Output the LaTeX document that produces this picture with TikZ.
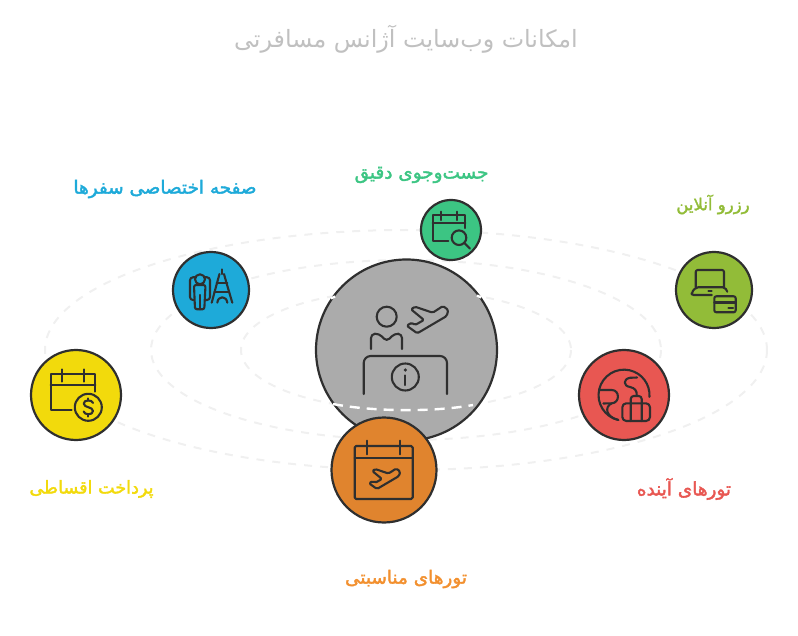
\documentclass[tikz,border=0pt]{standalone}
\usepackage{fontspec}
\usepackage{tikz}
\usetikzlibrary{positioning}
\TeXXeTstate=1
\newfontfamily\arabicfont[Script=Arabic]{DejaVu Sans}
\newfontfamily\tagfont[Script=Arabic,FakeBold=2]{DejaVu Sans}
\definecolor{inkc}{HTML}{2F2F2F}
\definecolor{orbitc}{HTML}{F0F0F0}
\definecolor{hubc}{HTML}{ABABAB}
\definecolor{searchc}{HTML}{3CC583}
\definecolor{pagec}{HTML}{1EAAD9}
\definecolor{bookc}{HTML}{92BC38}
\definecolor{futurec}{HTML}{E85752}
\definecolor{eventc}{HTML}{E0842E}
\definecolor{eventtxt}{HTML}{F2902F}
\definecolor{payc}{HTML}{F2DA0C}
\tikzset{
  main node/.style={circle,draw=inkc,line width=2.2pt,inner sep=0pt},
  orbit/.style={draw=orbitc,line width=2pt,dash pattern=on 8pt off 8pt},
  orbit front/.style={draw=white,line width=2.4pt,dash pattern=on 10pt off 7pt},
  icon/.style={draw=inkc,line width=2.1pt,line join=round,line cap=round},
  tag/.style={font=\tagfont\fontsize{18.4}{21}\selectfont,inner sep=0pt},
  small tag/.style={font=\tagfont\fontsize{#1}{21}\selectfont,inner sep=0pt},
  plane icon/.pic={
    \draw[icon,rounded corners=1.5pt] (20.3,-10) -- (15,-14) -- (4.7,-7.3) -- (-13,-13.3) -- (-17,-10.7)
      -- (-4,0) -- (-13,5) -- (-16.3,2.7) -- (-21.3,5.7) -- (-10.7,13.3) -- (18.7,-4) -- cycle;
  },
}
\newcommand{\rtltext}[1]{\beginR #1\endR}

\begin{document}
\begin{tikzpicture}[x=1pt,y=-1pt]
    \useasboundingbox (0,0) rectangle (798,636);

    % orbits behind everything
    \coordinate (mid) at (406,350);
    \draw[orbit] (mid) ellipse [x radius=361,y radius=120];
    \draw[orbit] (mid) ellipse [x radius=255,y radius=90];
    \draw[orbit] (mid) ellipse [x radius=165,y radius=60];

    \node[main node,fill=hubc,minimum size=181pt] (hub) at (406.5,350) {};

    % inner orbit in front of the hub
    \draw[orbit front] (333,404) .. controls (375,412) and (435,412) .. (473,405);
    \draw[draw=white,line width=2.4pt] (331,298.5) -- (335,296.5);
    \draw[draw=white,line width=2.4pt] (477,295.5) -- (481,297.5);

    \node[main node,fill=searchc,minimum size=60pt] (search) at (451,230) {};
    \node[main node,fill=pagec,minimum size=76pt] (page) at (211,290) {};
    \node[main node,fill=bookc,minimum size=76pt] (book) at (714,290) {};
    \node[main node,fill=payc,minimum size=90pt] (pay) at (76,395) {};
    \node[main node,fill=futurec,minimum size=90pt] (future) at (624,395) {};
    \node[main node,fill=eventc,minimum size=105pt] (event) at (384,470) {};

    % hub icon
    \draw[icon] (386.7,316.7) circle [radius=10];
    \draw[icon,rounded corners=4pt] (371,349) -- (371,334) -- (379,333.5) -- (386.7,341.5) -- (394.5,333.5) -- (402,334) -- (402,349);
    \draw[icon,rounded corners=7pt] (363.7,394) -- (363.7,356) -- (447,356) -- (447,394);
    \draw[icon] (405.3,377) circle [radius=13.5];
    \draw[icon] (405.3,375.5) -- (405.3,385);
    \fill[inkc] (405.3,370) circle [radius=1.8];
    \pic at (428,320) {plane icon};

    % search icon
    \draw[icon] (448.3,240.7) -- (432.7,240.7) -- (432.7,215) -- (465.3,215) -- (465.3,228);
    \draw[icon] (432.7,223.3) -- (465.3,223.3);
    \draw[icon] (440.7,211.7) -- (440.7,220);
    \draw[icon] (456.7,211.7) -- (456.7,220);
    \draw[icon] (459,237.7) circle [radius=7.3];
    \draw[icon] (464.3,243) -- (470,248.7);

    % page icon
    \draw[icon,rounded corners=3pt] (194,300) -- (190,300) -- (190,277.3) -- (210,277.3) -- (210,300) -- (206,300);
    \draw[icon,fill=pagec] (200,279.3) circle [radius=5];
    \draw[icon,rounded corners=2pt] (194,285) -- (195,309.3) -- (204.3,309.3) -- (205.5,285) -- cycle;
    \draw[icon] (200,295) -- (200,309.3);
    \draw[icon] (221.7,269.3) -- (221.7,274);
    \draw[icon] (219.5,274) -- (217,283) -- (211.7,302.7);
    \draw[icon] (224,274) -- (226.5,283) -- (232.3,302.7);
    \draw[icon] (216.7,282.7) -- (227.3,282.7);
    \draw[icon] (214.5,291.7) -- (229,291.7);
    \draw[icon] (217.3,302.7) .. controls (218,295.5) and (226.5,295.5) .. (227.3,302.7);

    % booking icon
    \draw[icon,rounded corners=2pt] (695.7,287.3) -- (695.7,270) -- (724,270) -- (724,287.3);
    \draw[icon,rounded corners=2pt] (711.7,295) -- (691.7,295) -- (691.7,292.3) -- (696,287.3) -- (725,287.3) -- (727.3,291.7);
    \draw[icon] (708.3,290.9) -- (711.7,290.9);
    \draw[icon,rounded corners=2pt] (714.3,296.3) rectangle (735.7,312.3);
    \draw[icon] (714.3,302.5) -- (735.7,302.5);
    \draw[icon] (728.5,307.7) -- (733,307.7);

    % future tours icon
    \draw[icon] (618.3,420) arc [start angle=103,end angle=364,radius=25.5];
    \draw[icon] (599.3,390) -- (611.7,390) .. controls (620,390) and (620,403) .. (611.7,403.3) -- (603.3,403.5);
    \draw[icon] (611.7,403.3) .. controls (604,407) and (606,417) .. (618.3,420);
    \draw[icon] (637,377.5) -- (630,377.8) .. controls (623,379) and (623,386) .. (630,387) .. controls (635,388) and (637,391) .. (636.7,395);
    \draw[icon,rounded corners=4pt,fill=futurec] (622.3,403.3) rectangle (650,421);
    \draw[icon,rounded corners=3pt] (630.7,421) -- (630.7,396) -- (641.7,396) -- (641.7,421);

    % event tours icon
    \draw[icon,rounded corners=1.5pt] (354.7,446) rectangle (412.7,499);
    \draw[icon] (354.7,458.3) -- (412.7,458.3);
    \draw[icon] (367.3,440.7) -- (367.3,454.3);
    \draw[icon] (400,440.7) -- (400,454.3);
    \pic[scale=.75] at (385,479) {plane icon};

    % instalment icon
    \draw[icon] (71.7,410) -- (50.7,410) -- (50.7,374) -- (95.3,374) -- (95.3,391.7);
    \draw[icon] (50.7,384.7) -- (95.3,384.7);
    \draw[icon] (62,369.3) -- (62,381.7);
    \draw[icon] (84,369.3) -- (84,381.7);
    \draw[icon] (88.3,407.3) circle [radius=13.5];
    \draw[icon] (93,403) .. controls (92,399.5) and (84,399.5) .. (83.7,403.5) .. controls (83.7,408) and (93,406.5) .. (93,411)
      .. controls (93,415.5) and (84,415) .. (83.7,411.5);
    \draw[icon] (88.3,398.5) -- (88.3,400.5);
    \draw[icon] (88.3,414.5) -- (88.3,416.5);

    \node[font=\arabicfont\fontsize{23.8}{28}\selectfont,text=hubc!75,inner sep=0pt] (title) at (406,39.5) {\rtltext{امکانات وب‌سایت آژانس مسافرتی}};
    \node[tag,text=searchc] (searchtag) at (421.5,175) {\rtltext{جست‌وجوی دقیق}};
    \node[tag,text=pagec] (pagetag) at (165,189) {\rtltext{صفحه اختصاصی سفرها}};
    \node[small tag=16.5,text=bookc] (booktag) at (713,204.5) {\rtltext{رزرو آنلاین}};
    \node[tag,text=futurec] (futuretag) at (684,489) {\rtltext{تورهای آینده}};
    \node[tag,text=eventtxt] (eventtag) at (406,579) {\rtltext{تورهای مناسبتی}};
    \node[small tag=17.6,text=payc] (paytag) at (91.5,489) {\rtltext{پرداخت اقساطی}};
\end{tikzpicture}
\end{document}
